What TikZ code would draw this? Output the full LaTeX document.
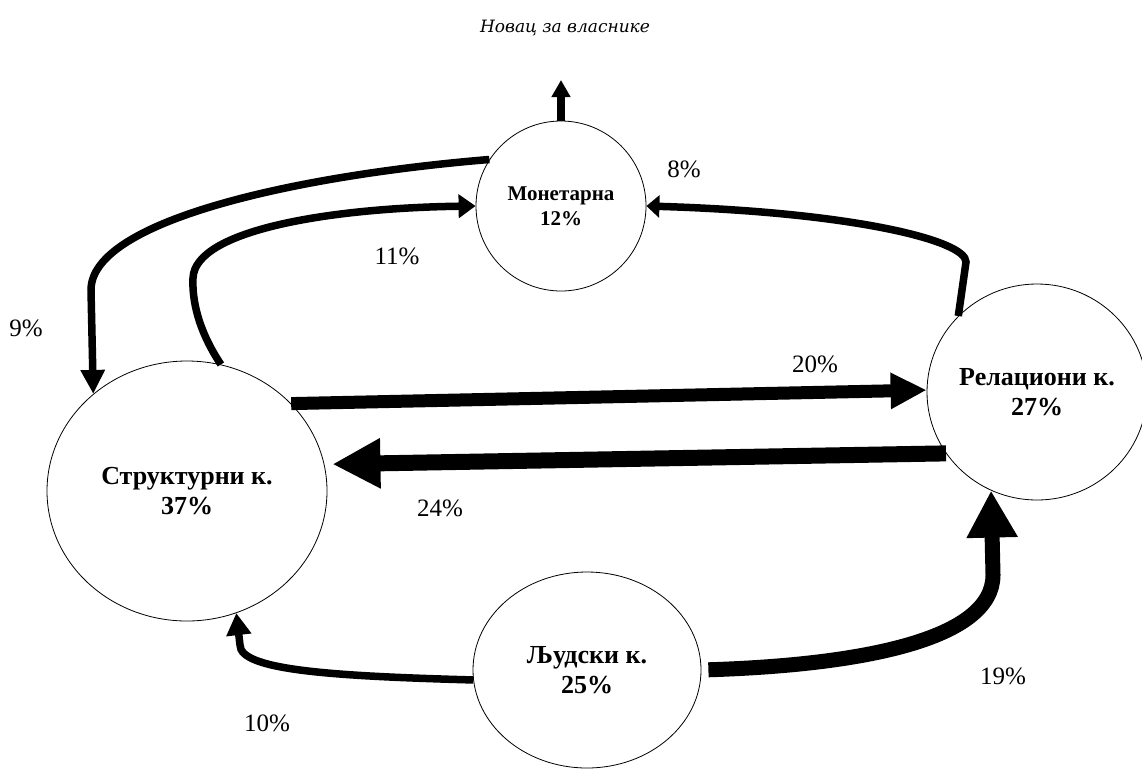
\documentclass[tikz,border=0pt]{standalone}
\usepackage{fontspec}
\setmainfont{Liberation Serif}
\newfontfamily\headfont{DejaVu Serif}
\usetikzlibrary{arrows.meta,shapes.geometric}

\begin{document}
\begin{tikzpicture}[x=1pt,y=-1pt,
  capital/.style={draw,ellipse,line width=0.8pt,inner sep=0pt,align=center,
    font=\bfseries\fontsize{26}{30}\selectfont},
  flow/.style={line width=7.5pt},
  pct/.style={font=\fontsize{25}{28}\selectfont,inner sep=0pt}]
\useasboundingbox (0,0) rectangle (1142,769);

% capital nodes
\node[capital,minimum width=170pt,minimum height=170pt,
  font=\bfseries\fontsize{21}{25}\selectfont] (mon) at (561,206) {Монетарна\\12\%};
\node[capital,minimum width=280pt,minimum height=260pt] (struct) at (187,491) {Структурни к.\\37\%};
\node[capital,minimum width=218pt,minimum height=216pt] (rel) at (1037,392) {Релациони к.\\27\%};
\node[capital,minimum width=228pt,minimum height=196pt] (hum) at (587,670) {Људски к.\\25\%};

% outflow to the owners
\node[font=\headfont\itshape\fontsize{17}{20}\selectfont] (owners) at (565,28) {Новац за власнике};
\coordinate (ownout) at (561,80);
\draw[flow,-{Triangle[length=17pt,width=18pt]}] (mon.north) -- (ownout);

% flows between capitals
\draw[flow,-{Triangle[length=24pt,width=23pt]}]
  (mon.147) .. controls (300,175) and (91,220) .. (91,290) -- (struct.134);
\draw[flow,-{Triangle[length=17pt,width=23pt]}]
  (struct.75) .. controls (198,330) and (192,300) .. (193,278)
  .. controls (195,230) and (330,208) .. (mon.west);
\draw[flow,-{Triangle[length=13pt,width=22pt]}]
  (rel.136) -- (966,262) .. controls (966,240) and (850,212) .. (mon.east);
\draw[line width=13pt,-{Triangle[length=36pt,width=34pt]}]
  (struct.40) -- (rel.179);
\draw[line width=16pt,-{Triangle[length=48pt,width=47pt]},shorten >=8pt]
  (rel.214) -- (struct.11);
\draw[line width=15pt,-{Triangle[length=47pt,width=48pt]},shorten <=7pt]
  (hum.east) .. controls (860,665) and (993,640) .. (993,575) -- (rel.245);
\draw[flow,-{Triangle[length=22pt,width=24pt]}]
  (hum.185) .. controls (330,676) and (240,670) .. (240,645) -- (struct.292);

% flow shares
\node[pct] (p9)  at (26,328)   {9\%};
\node[pct] (p11) at (397,256)  {11\%};
\node[pct] (p8)  at (684,169)  {8\%};
\node[pct] (p20) at (815,364)  {20\%};
\node[pct] (p24) at (440,508)  {24\%};
\node[pct] (p19) at (1003,676) {19\%};
\node[pct] (p10) at (267,723)  {10\%};
\end{tikzpicture}
\end{document}
